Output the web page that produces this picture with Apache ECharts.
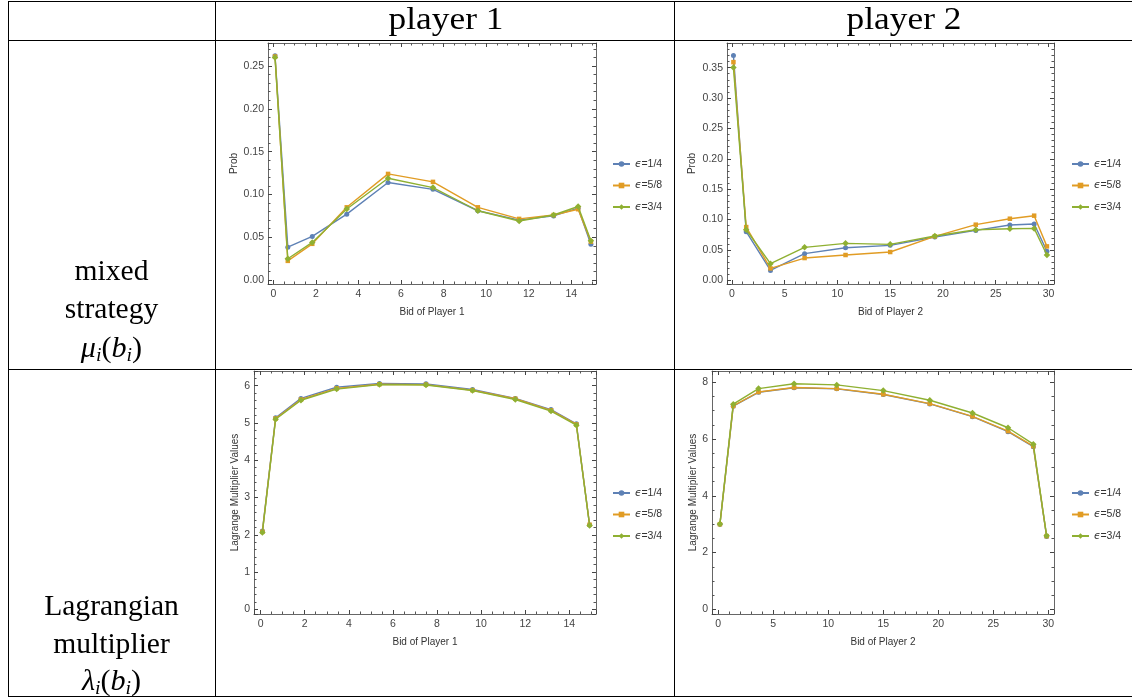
<!DOCTYPE html>
<html>
<head>
<meta charset="utf-8">
<script src="https://cdn.jsdelivr.net/npm/echarts@6/dist/echarts.min.js"></script>
<style>
html,body{margin:0;padding:0;background:#fff;}
#chart{width:1132px;height:698px;}
</style>
</head>
<body>
<div id="chart"></div>
<script>
// ---------- data ----------
const epsLabels = ['ϵ=1/4', 'ϵ=5/8', 'ϵ=3/4'];
const bidsP1 = [0.08, 0.68, 1.83, 3.45, 5.39, 7.5, 9.61, 11.55, 13.17, 14.32, 14.92];
const bidsP2 = [0.15, 1.36, 3.66, 6.89, 10.77, 15.0, 19.23, 23.11, 26.34, 28.64, 29.85];

const probP1_e14 = [0.262, 0.0385, 0.051, 0.077, 0.114, 0.106, 0.081, 0.070, 0.075, 0.084, 0.042];
const probP1_e58 = [0.261, 0.0225, 0.0424, 0.085, 0.124, 0.1147, 0.085, 0.0715, 0.076, 0.0828, 0.045];
const probP1_e34 = [0.260, 0.025, 0.044, 0.083, 0.119, 0.108, 0.081, 0.069, 0.076, 0.086, 0.046];

const probP2_e14 = [0.370, 0.080, 0.0164, 0.0439, 0.0537, 0.0576, 0.0713, 0.0822, 0.091, 0.0927, 0.048];
const probP2_e58 = [0.359, 0.0877, 0.0197, 0.0367, 0.0417, 0.0466, 0.0724, 0.0916, 0.1014, 0.1064, 0.0559];
const probP2_e34 = [0.350, 0.0833, 0.0274, 0.0543, 0.0609, 0.0592, 0.0729, 0.0833, 0.085, 0.0855, 0.0417];

const lagP1_e14 = [2.10, 5.14, 5.66, 5.96, 6.06, 6.05, 5.90, 5.66, 5.36, 4.98, 2.26];
const lagP1_e58 = [2.08, 5.12, 5.63, 5.93, 6.04, 6.03, 5.88, 5.65, 5.34, 4.96, 2.27];
const lagP1_e34 = [2.06, 5.10, 5.61, 5.91, 6.03, 6.02, 5.87, 5.63, 5.32, 4.94, 2.25];

const lagP2_e14 = [3.00, 7.16, 7.65, 7.81, 7.77, 7.57, 7.24, 6.79, 6.26, 5.73, 2.57];
const lagP2_e58 = [3.00, 7.17, 7.66, 7.82, 7.78, 7.58, 7.25, 6.80, 6.28, 5.75, 2.58];
const lagP2_e34 = [3.01, 7.23, 7.78, 7.95, 7.91, 7.71, 7.37, 6.92, 6.40, 5.82, 2.59];

const xTitles = ['Bid of Player 1', 'Bid of Player 2', 'Bid of Player 1', 'Bid of Player 2'];
const yTitles = ['Prob', 'Prob', 'Lagrange Multiplier Values', 'Lagrange Multiplier Values'];
const colHeaders = ['player 1', 'player 2'];

// ---------- styling / layout ----------
const colors = ['#5E81B5', '#E19C24', '#8FB032'];
const symbols = ['circle', 'rect', 'diamond'];
const symbolSizes = [5, 4.5, 6.5];
const frameColor = '#666';
const labelColor = '#444';
const SANS = 'Liberation Sans';
const SERIF = 'Liberation Serif';

const panels = [
  { grid: {left: 268, top: 43, width: 328, height: 241}, x: [-0.25, 15.16], y: [-0.0045, 0.2768], xi: 2, xm: 4, yi: 0.05, ym: 5, yd: 2, yGap: 28, legend: {left: 607, top: 153},
    bids: bidsP1, vals: [probP1_e14, probP1_e58, probP1_e34] },
  { grid: {left: 727, top: 43, width: 327, height: 241}, x: [-0.46, 30.52], y: [-0.006, 0.3905], xi: 5, xm: 5, yi: 0.05, ym: 5, yd: 2, yGap: 30, legend: {left: 1066, top: 153},
    bids: bidsP2, vals: [probP2_e14, probP2_e58, probP2_e34] },
  { grid: {left: 254, top: 371, width: 342, height: 243}, x: [-0.30, 15.21], y: [-0.125, 6.395], xi: 2, xm: 4, yi: 1, ym: 5, yd: 0, yGap: 12, legend: {left: 607, top: 482},
    bids: bidsP1, vals: [lagP1_e14, lagP1_e58, lagP1_e34] },
  { grid: {left: 712, top: 371, width: 342, height: 243}, x: [-0.57, 30.52], y: [-0.165, 8.40], xi: 5, xm: 5, yi: 2, ym: 4, yd: 0, yGap: 12, legend: {left: 1066, top: 482},
    bids: bidsP2, vals: [lagP2_e14, lagP2_e58, lagP2_e34] }
];

const grids = [], xAxes = [], yAxes = [], series = [], legends = [];

function tickAxis(base, minorSplit) {
  return Object.assign({
    axisLine: {show: true, onZero: false, lineStyle: {color: frameColor, width: 1}},
    axisTick: {show: true, inside: true, length: 4, lineStyle: {color: '#444', width: 1}},
    minorTick: {show: true, splitNumber: minorSplit, length: 2.5, lineStyle: {color: '#555', width: 1}},
    splitLine: {show: false},
    minorSplitLine: {show: false}
  }, base);
}

panels.forEach((p, gi) => {
  grids.push(Object.assign({containLabel: false}, p.grid));
  const xCommon = {type: 'value', gridIndex: gi, min: p.x[0], max: p.x[1], minInterval: p.xi, maxInterval: p.xi, splitNumber: 6};
  const yCommon = {type: 'value', gridIndex: gi, min: p.y[0], max: p.y[1], minInterval: p.yi, maxInterval: p.yi, splitNumber: 6};
  xAxes.push(tickAxis(Object.assign({}, xCommon, {
    position: 'bottom',
    name: xTitles[gi], nameLocation: 'middle', nameGap: 23,
    nameTextStyle: {fontFamily: SANS, fontSize: 10, color: '#333'},
    axisLabel: {show: true, showMinLabel: false, showMaxLabel: false, margin: 5, fontFamily: SANS, fontSize: 10.5, color: labelColor}
  }), p.xm));
  xAxes.push(tickAxis(Object.assign({}, xCommon, {
    position: 'top',
    axisLabel: {show: false}
  }), p.xm));
  yAxes.push(tickAxis(Object.assign({}, yCommon, {
    position: 'left',
    name: yTitles[gi], nameLocation: 'middle', nameGap: p.yGap,
    nameTextStyle: {fontFamily: SANS, fontSize: 10, color: '#333'},
    axisLabel: {show: true, showMinLabel: false, showMaxLabel: false, margin: 4, fontFamily: SANS, fontSize: 10.5, color: labelColor,
      formatter: v => v.toFixed(p.yd)}
  }), p.ym));
  yAxes.push(tickAxis(Object.assign({}, yCommon, {
    position: 'right',
    axisLabel: {show: false}
  }), p.ym));

  p.vals.forEach((vals, si) => {
    series.push({
      type: 'line',
      name: epsLabels[si],
      xAxisIndex: gi * 2,
      yAxisIndex: gi * 2,
      data: p.bids.map((b, k) => [b, vals[k]]),
      symbol: symbols[si],
      symbolSize: symbolSizes[si],
      showSymbol: true,
      lineStyle: {color: colors[si], width: 1.4},
      itemStyle: {color: colors[si]},
      emphasis: {disabled: true},
      animation: false,
      z: 2 + si
    });
  });

  legends.push({
    orient: 'vertical',
    left: p.legend.left, top: p.legend.top,
    itemWidth: 17, itemHeight: 7, itemGap: 9.5,
    data: epsLabels,
    selectedMode: false,
    formatter: name => '{e|ϵ}' + name.slice(1),
    textStyle: {fontFamily: SANS, fontSize: 10.5, color: '#333', lineHeight: 12,
      rich: {e: {fontFamily: 'DejaVu Sans', fontStyle: 'italic', fontSize: 10.5, color: '#333'}}}
  });
});

// ---------- table frame ----------
const graphics = [];
function hline(y, x1, x2) { graphics.push({type: 'line', silent: true, shape: {x1: x1, y1: y, x2: x2, y2: y}, style: {stroke: '#000', lineWidth: 1}}); }
function vline(x, y1, y2) { graphics.push({type: 'line', silent: true, shape: {x1: x, y1: y1, x2: x, y2: y2}, style: {stroke: '#000', lineWidth: 1}}); }
hline(1.5, 8, 1132);
hline(40.5, 8, 1132);
hline(369.5, 8, 1132);
hline(696.5, 8, 1132);
vline(8.5, 1, 697);
vline(215.5, 1, 697);
vline(674.5, 1, 697);

function txt(text, x, y, size, sx, rich) {
  graphics.push({type: 'text', silent: true, x: x, y: y, scaleX: sx,
    style: {text: text, font: size + 'px "' + SERIF + '"', fill: '#000', align: 'center', verticalAlign: 'middle', rich: rich}});
}
txt(colHeaders[0], 446, 21, 31, 1.14);
txt(colHeaders[1], 904, 21, 31, 1.14);
const mathRich = {
  it: {fontFamily: SERIF, fontStyle: 'italic', fontSize: 29},
  n: {fontFamily: SERIF, fontSize: 29},
  sub: {fontFamily: SERIF, fontStyle: 'italic', fontSize: 19, padding: [14, 0, 0, 0]}
};
txt('mixed', 111.5, 272, 29, 1.02);
txt('strategy', 111.5, 310, 29, 1.02);
txt('{it|μ}{sub|i}{n|(}{it|b}{sub|i}{n|)}', 111.5, 349, 29, 1.04, mathRich);
txt('Lagrangian', 111.5, 607, 29, 1.02);
txt('multiplier', 111.5, 645, 29, 1.02);
txt('{it|λ}{sub|i}{n|(}{it|b}{sub|i}{n|)}', 111.5, 682, 29, 1.04, mathRich);

const chart = echarts.init(document.getElementById('chart'), null, {renderer: 'canvas'});
chart.setOption({
  backgroundColor: '#fff',
  animation: false,
  grid: grids,
  xAxis: xAxes,
  yAxis: yAxes,
  legend: legends,
  series: series,
  graphic: graphics
});
</script>
</body>
</html>
